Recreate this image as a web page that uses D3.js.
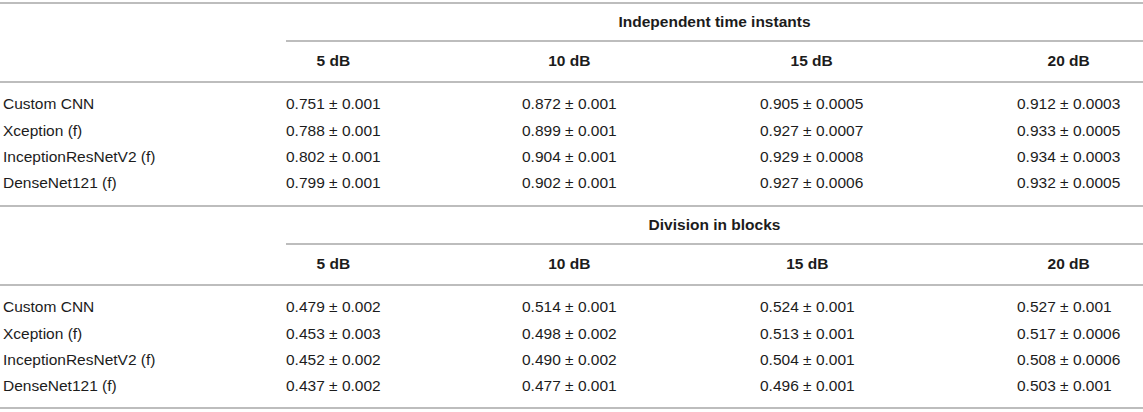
<!DOCTYPE html>
<html>
<head>
<meta charset="utf-8">
<script src="https://cdn.jsdelivr.net/npm/d3@7"></script>
<style>
  html, body { margin: 0; padding: 0; background: #fff; }
  svg text { font-family: "Liberation Sans", Arial, Helvetica, sans-serif; fill: #1c1c1c; }
  .bold { font-weight: bold; }
</style>
</head>
<body>
<div id="wrapper"></div>
<script>
'use strict';

//#region DATASET
const models = ['Custom CNN', 'Xception (f)', 'InceptionResNetV2 (f)', 'DenseNet121 (f)'];
const snrLabels = ['5 dB', '10 dB', '15 dB', '20 dB'];
const groupTitles = ['Independent time instants', 'Division in blocks'];

// rows = models, columns = snr
const meansIndependent = [
  [0.751, 0.872, 0.905, 0.912],
  [0.788, 0.899, 0.927, 0.933],
  [0.802, 0.904, 0.929, 0.934],
  [0.799, 0.902, 0.927, 0.932]
];
const errorsIndependent = [
  [0.001, 0.001, 0.0005, 0.0003],
  [0.001, 0.001, 0.0007, 0.0005],
  [0.001, 0.001, 0.0008, 0.0003],
  [0.001, 0.001, 0.0006, 0.0005]
];
const meansBlocks = [
  [0.479, 0.514, 0.524, 0.527],
  [0.453, 0.498, 0.513, 0.517],
  [0.452, 0.490, 0.504, 0.508],
  [0.437, 0.477, 0.496, 0.503]
];
const errorsBlocks = [
  [0.002, 0.001, 0.001, 0.001],
  [0.003, 0.002, 0.001, 0.0006],
  [0.002, 0.002, 0.001, 0.0006],
  [0.002, 0.001, 0.001, 0.001]
];
//#endregion DATASET

function drawTable () {
  //#region DIMENSIONS
  const dimensions = {
    width: 1143,
    height: 412,
    labelX: 3,
    dataLeft: 286,
    sectionHeight: 203
  };
  const lineColor = '#bdbdbd';
  const fontSize = 15.5;
  //#endregion DIMENSIONS

  const sections = [
    { title: groupTitles[0], means: meansIndependent, errors: errorsIndependent },
    { title: groupTitles[1], means: meansBlocks, errors: errorsBlocks }
  ];

  const fmtMean = d3.format('.3f');
  const cellText = (m, e) => `${fmtMean(m)} \u00b1 ${e}`;

  //#region DRAW CANVAS
  const wrapper = d3.select('#wrapper').append('svg')
    .attr('width', dimensions.width)
    .attr('height', dimensions.height);
  //#endregion DRAW CANVAS

  //#region SCALES
  const xCol = d3.scaleOrdinal()
    .domain(snrLabels)
    .range([286, 522, 760, 1017]);

  const ySection = d3.scaleOrdinal()
    .domain(groupTitles)
    .range([0, dimensions.sectionHeight]);

  const yRow = d3.scalePoint()
    .domain(models)
    .range([104, 183]);
  //#endregion SCALES

  const hLine = (g, y, x1) => g.append('line')
    .attr('x1', x1).attr('x2', dimensions.width)
    .attr('y1', y).attr('y2', y)
    .attr('stroke', lineColor)
    .attr('stroke-width', 2);

  sections.forEach((sec) => {
    const g = wrapper.append('g')
      .attr('transform', `translate(0, ${ySection(sec.title)})`);

    hLine(g, 3, 0);
    hLine(g, 41, dimensions.dataLeft);
    hLine(g, 82, 0);

    g.append('text')
      .attr('class', 'bold')
      .attr('x', (dimensions.dataLeft + dimensions.width) / 2)
      .attr('y', 22)
      .attr('dy', '0.35em')
      .attr('text-anchor', 'middle')
      .style('font-size', `${fontSize}px`)
      .text(sec.title);

    // row labels
    g.selectAll('text.row-label').data(models)
      .enter()
      .append('text')
      .attr('class', 'row-label')
      .attr('x', dimensions.labelX)
      .attr('y', d => yRow(d))
      .attr('dy', '0.35em')
      .style('font-size', `${fontSize}px`)
      .text(d => d);

    // data cells, column by column
    const colWidths = {};
    snrLabels.forEach((snr, j) => {
      const cells = g.selectAll(`text.cell-${j}`).data(models)
        .enter()
        .append('text')
        .attr('class', `cell-${j}`)
        .attr('x', xCol(snr))
        .attr('y', d => yRow(d))
        .attr('dy', '0.35em')
        .style('font-size', `${fontSize}px`)
        .text((d, i) => cellText(sec.means[i][j], sec.errors[i][j]));
      colWidths[snr] = d3.max(cells.nodes(), n => n.getComputedTextLength());
    });

    // column headers centred over the widest cell
    g.selectAll('text.col-head').data(snrLabels)
      .enter()
      .append('text')
      .attr('class', 'col-head bold')
      .attr('x', d => xCol(d) + colWidths[d] / 2)
      .attr('y', 61)
      .attr('dy', '0.35em')
      .attr('text-anchor', 'middle')
      .style('font-size', `${fontSize}px`)
      .text(d => d);
  });

  hLine(wrapper, 408, 0);
}

drawTable();
</script>
</body>
</html>
